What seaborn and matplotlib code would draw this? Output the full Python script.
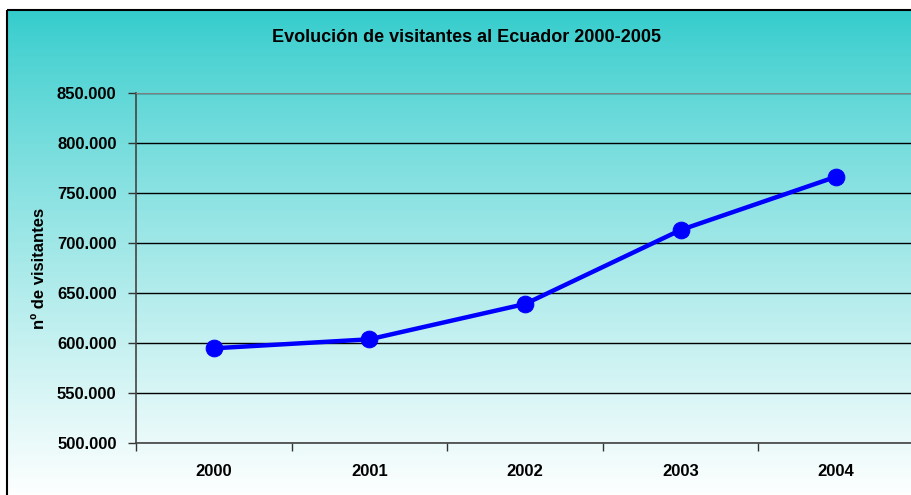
import numpy as np
import pandas as pd
import seaborn as sns
import matplotlib.pyplot as plt
from matplotlib.patches import Rectangle
from matplotlib.ticker import FuncFormatter

# values
years = ["2000", "2001", "2002", "2003", "2004"]
visitors = [594700, 603700, 639000, 713000, 766300]
y_ticks = [500000, 550000, 600000, 650000, 700000, 750000, 800000, 850000]

df = pd.DataFrame({"year": years, "visitors": visitors})

sns.set_style("white")
plt.rcParams["font.family"] = ["Liberation Sans", "DejaVu Sans"]
plt.rcParams["font.weight"] = "bold"
plt.rcParams["text.color"] = "black"
plt.rcParams["xtick.color"] = "black"
plt.rcParams["ytick.color"] = "black"
plt.rcParams["axes.labelcolor"] = "black"

W, H = 912, 495
fig = plt.figure(figsize=(W / 100, H / 100), dpi=100)
fig.patch.set_facecolor("white")

# background gradient (chart area), teal at top fading to white
bg = fig.add_axes([0, 0, 1, 1], zorder=0)
bg.set_xlim(0, W)
bg.set_ylim(H, 0)
bg.axis("off")
grad = np.linspace(0, 1, 256).reshape(-1, 1)
top = np.array([0.20, 0.80, 0.80])
bottom = np.array([1.0, 1.0, 1.0])
img = top + (bottom - top) * grad[..., None] ** 0.85
bg.imshow(img, extent=[7, W + 5, H + 5, 10], aspect="auto", interpolation="bilinear")
bg.add_patch(Rectangle((7, 10), W, H, fill=False, edgecolor="black", linewidth=1.5))

# plot area
left, right, top_px, bot_px = 136, 914, 93, 443
ax = fig.add_axes([left / W, 1 - bot_px / H, (right - left) / W, (bot_px - top_px) / H], zorder=1)
ax.patch.set_alpha(0)

sns.lineplot(data=df, x="year", y="visitors", ax=ax, color="#0000FF",
             linewidth=3.2, marker="o", markersize=12, markeredgecolor="#0000FF",
             sort=False)

ax.set_xlim(-0.5, len(years) - 0.5)
ax.set_ylim(500000, 850000)
ax.set_yticks(y_ticks)
ax.yaxis.set_major_formatter(FuncFormatter(lambda v, p: f"{int(v):,}".replace(",", ".")))
ax.yaxis.grid(True, color="black", linewidth=1)
ax.set_axisbelow(True)

ax.set_xticks(range(len(years)))
ax.set_xticklabels(years)
ax.set_xticks(np.arange(-0.5, len(years)), minor=True)
ax.tick_params(axis="x", which="major", bottom=True, length=0, pad=15, labelsize=12)
ax.tick_params(axis="x", which="minor", bottom=True, length=6, width=1, color="#333333", direction="out")
ax.tick_params(axis="y", left=True, length=6, width=1, color="#333333", direction="out", pad=8, labelsize=12)
for lab in ax.get_xticklabels() + ax.get_yticklabels():
    lab.set_fontweight("bold")

for s in ["left", "bottom"]:
    ax.spines[s].set_visible(True)
    ax.spines[s].set_color("#444444")
    ax.spines[s].set_linewidth(1.2)
ax.spines["top"].set_visible(True)
ax.spines["top"].set_color("#808080")
ax.spines["right"].set_visible(False)

ax.set_xlabel("")
ax.set_ylabel("nº de visitantes", fontsize=12, fontweight="bold", labelpad=7)

fig.text(467 / W, 1 - 37 / H, "Evolución de visitantes al Ecuador 2000-2005",
         ha="center", va="center", fontsize=13, fontweight="bold")

fig.savefig("out.png", dpi=100)
